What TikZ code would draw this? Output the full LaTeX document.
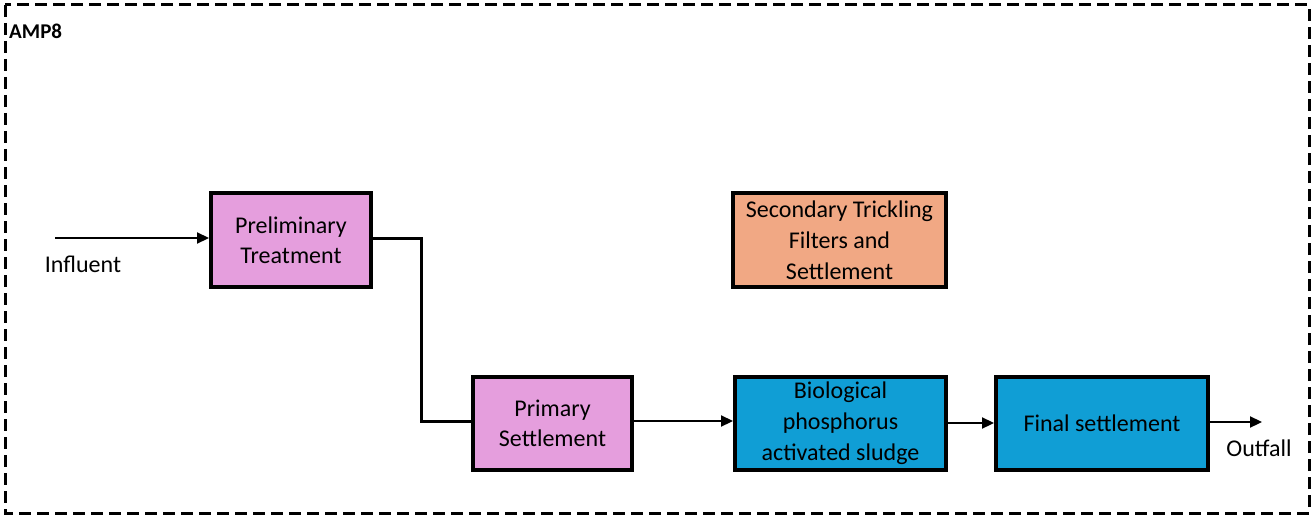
\documentclass[tikz,border=0pt]{standalone}
\usepackage{fontspec}
\setmainfont{Carlito}
\usetikzlibrary{arrows.meta}
\definecolor{pinkfill}{RGB}{229,158,221}
\definecolor{bluefill}{RGB}{16,158,213}
\definecolor{orangefill}{RGB}{241,168,132}
\tikzset{
  procbox/.style={draw=black, line width=4pt, minimum width=#1, inner sep=0pt, align=center, font=\fontsize{24}{30}\selectfont},
  flow/.style={line width=2.2pt, -{Triangle[length=12pt,width=11pt]}},
  plainflow/.style={line width=3pt},
  lbl/.style={font=\fontsize{24}{28}\selectfont, inner sep=0pt}
}
\begin{document}
\begin{tikzpicture}[x=1pt,y=-1pt]
\useasboundingbox (0,0) rectangle (1314,516);
\draw[line width=3pt, dash pattern=on 12pt off 6pt] (5,5) rectangle (1309,513);
\node[anchor=north west, inner sep=0pt, font=\bfseries\fontsize{21}{24}\selectfont] (amp) at (9,24) {AMP8};

\node[procbox, fill=pinkfill, minimum width=160pt, minimum height=94pt] (pre) at (291,240) {Preliminary\\Treatment};
\node[procbox, fill=pinkfill, minimum width=159pt, minimum height=93pt] (prim) at (552.5,423.5) {Primary\\Settlement};
\node[procbox, fill=bluefill, minimum width=211pt, minimum height=93pt, font=\fontsize{24}{31}\selectfont] (bio) at (840.5,423.5) {Biological\\phosphorus\\activated sludge};
\node[procbox, fill=bluefill, minimum width=212pt, minimum height=93pt] (fin) at (1102,423.5) {Final settlement};
\node[procbox, fill=orangefill, minimum width=213pt, minimum height=94pt, font=\fontsize{24}{31}\selectfont] (sec) at (839.5,240) {Secondary Trickling\\Filters and\\Settlement};

\coordinate (in) at (55,238);
\coordinate (out) at (1262,422);
\coordinate (bend1) at (421,238);
\coordinate (bend2) at (421,421);

\draw[flow] (in) -- (pre.west |- in);
\draw[plainflow] (pre.east |- bend1) -- (bend1) -- (bend2) -- (prim.west |- bend2);
\draw[flow] (prim.east |- 0,421) -- (bio.west |- 0,421);
\draw[flow] (bio.east |- 0,423) -- (fin.west |- 0,423);
\draw[flow] (fin.east |- out) -- (out);

\node[lbl, anchor=center] (influent) at (83,264) {Influent};
\node[lbl, anchor=center] (outfall) at (1259,448) {Outfall};
\end{tikzpicture}
\end{document}
